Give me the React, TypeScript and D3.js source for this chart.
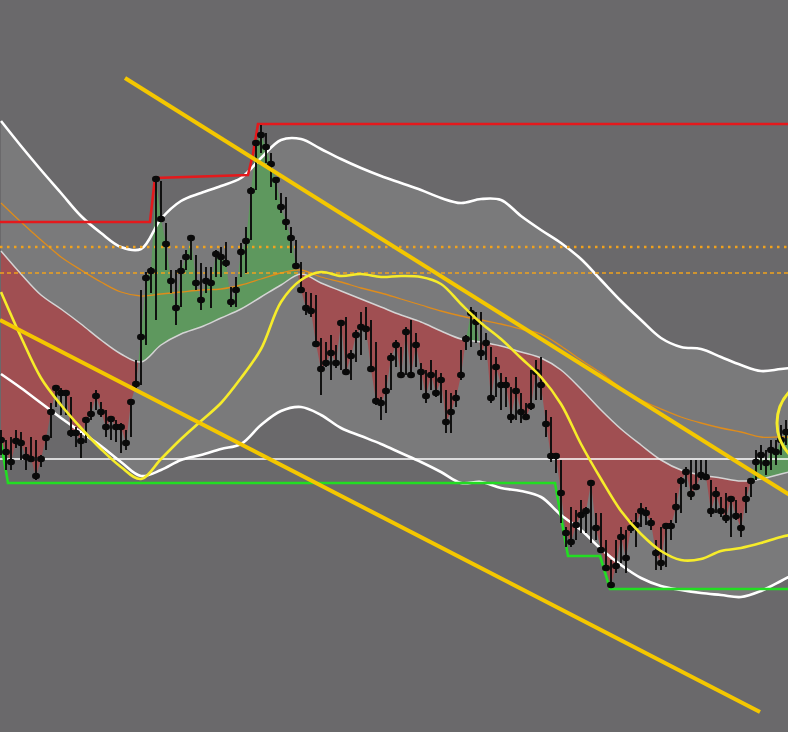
import React from 'react';
import * as d3 from 'd3';

const W = 788;
const H = 732;

// candle data (price units)
const closes = [56.0,54.8,53.8,55.9,55.7,54.3,54.1,52.4,54.1,56.2,
58.8,61.2,60.7,60.7,56.7,56.7,55.9,58.0,58.6,60.4,
58.8,57.3,58.1,57.3,57.3,55.7,59.8,61.6,66.3,72.2,
72.9,82.1,78.1,75.6,71.9,69.2,72.9,74.3,76.2,71.7,
70.0,71.9,71.7,74.6,74.3,73.7,69.8,71.0,74.8,75.9,
80.9,85.7,86.5,85.3,83.6,82.0,79.3,77.8,76.2,73.4,
71.0,69.2,68.9,65.6,63.1,63.7,64.7,63.7,67.7,62.8,
64.4,66.5,67.3,67.1,63.1,59.9,59.7,60.9,64.2,65.5,
62.5,66.8,62.5,65.5,62.8,60.4,62.5,60.7,62.0,57.8,
58.8,60.2,62.5,66.1,68.7,67.8,64.7,65.7,60.2,63.3,
61.5,61.5,58.3,60.9,58.8,58.3,59.4,62.8,61.5,57.6,
54.4,54.4,50.7,46.7,45.8,47.5,48.5,48.9,51.7,47.2,
45.0,43.2,41.5,43.4,46.3,44.2,47.2,47.5,48.9,48.7,
47.7,44.7,43.7,47.4,47.4,49.3,51.9,52.8,50.6,51.3,
52.5,52.3,48.9,50.6,48.9,48.2,50.1,48.4,47.2,50.1,
51.9,53.8,54.5,53.7,55.0,54.8,56.0,56.8];

const highs = [57.0,56.0,56.3,57.0,56.8,55.3,56.3,56.0,54.5,56.5,
59.7,61.5,61.2,61.0,60.3,57.3,56.7,58.3,59.8,61.0,
59.8,59.0,58.3,58.0,57.7,57.0,60.0,64.0,71.0,72.8,
73.3,82.3,81.9,77.7,73.0,73.0,74.0,75.0,76.5,74.5,
73.7,73.3,73.3,75.0,75.3,75.8,71.3,72.3,75.7,77.3,
81.3,86.0,87.5,86.7,84.7,82.3,80.7,80.3,77.3,76.0,
73.8,70.8,70.7,70.5,66.2,65.8,66.5,65.5,68.0,68.3,
65.0,67.0,68.8,69.3,68.0,65.8,60.3,62.5,64.7,66.0,
65.3,67.3,68.0,66.7,63.7,63.0,64.0,63.0,62.7,61.0,
60.7,61.0,65.0,66.5,69.3,68.8,68.8,66.7,65.3,64.3,
62.7,62.3,61.3,62.3,60.7,59.7,63.0,64.0,64.3,59.0,
58.3,54.7,54.0,47.3,49.3,49.0,50.0,49.3,52.0,48.7,
48.7,46.0,44.0,46.0,47.3,47.0,48.0,48.7,49.7,49.3,
48.2,46.0,47.3,47.7,48.0,50.7,52.3,53.3,54.0,54.0,
54.0,54.0,52.0,51.3,50.3,50.7,50.3,50.0,48.7,51.3,
52.2,55.0,55.5,55.0,56.0,56.0,57.5,58.0];

const lows = [54.5,53.0,53.0,55.2,54.0,53.0,53.8,52.0,53.3,55.0,
56.2,59.3,58.5,58.5,56.3,55.3,54.2,55.7,58.0,59.0,
58.3,56.3,56.0,55.8,54.7,55.0,56.3,61.2,61.5,65.5,
70.7,68.0,77.8,73.0,70.7,67.5,69.3,73.0,74.0,71.0,
69.0,70.7,69.2,72.3,72.3,73.3,69.3,69.3,72.3,72.7,
76.0,81.0,84.7,83.7,81.3,80.0,78.7,77.0,74.7,73.3,
70.7,68.5,68.3,65.3,60.5,63.3,62.0,63.2,63.0,62.7,
62.0,63.8,64.5,66.0,63.0,59.5,58.0,58.7,61.0,63.3,
62.3,62.5,62.3,63.3,61.0,59.7,61.0,60.3,59.7,56.7,
56.7,59.3,62.0,65.0,65.3,65.7,64.0,64.0,59.7,60.3,
59.0,59.3,57.7,58.0,57.7,58.0,59.0,60.0,60.0,56.3,
53.8,52.7,47.7,45.3,45.3,46.0,46.7,46.7,45.7,46.0,
44.7,43.0,41.3,42.7,43.7,42.7,46.7,45.3,47.3,47.5,
47.0,43.0,43.0,43.3,46.0,47.7,48.7,51.3,50.0,51.0,
52.0,52.0,48.3,48.7,48.3,47.7,46.3,48.0,46.3,48.7,
50.3,52.0,53.0,52.5,53.0,53.5,54.5,55.5];

// indicator lines sampled at these candle indices
const lineIdx = [0,4,8,12,16,20,24,28,32,36,40,44,48,52,56,60,64,68,72,76,80,84,88,92,96,100,104,108,112,116,120,124,128,132,136,140,144,148,152,156,160];

const upperBand = [87.9,85.4,83.0,80.7,78.4,76.7,75.3,75.1,78.1,79.9,80.7,81.4,82.2,84.2,86.0,86.1,85.1,84.1,83.2,82.4,81.7,81.0,80.2,79.7,80.1,80.0,78.4,77.0,75.7,74.1,72.0,69.9,68.0,66.2,65.3,65.1,64.3,63.5,62.9,63.1,63.3];
const lowerBand = [62.6,61.2,59.7,58.2,56.8,55.4,53.8,52.4,53.0,54.0,54.5,55.1,55.6,57.5,58.9,59.3,58.5,57.2,56.4,55.6,54.7,53.8,52.8,51.7,51.8,51.2,50.9,50.3,48.5,47.0,45.1,43.5,42.2,41.4,41.0,40.7,40.5,40.3,40.9,41.9,43.0];
const midLine = [74.9,72.6,70.5,69.1,67.6,66.0,64.6,63.8,65.5,66.6,67.3,68.2,69.1,70.3,71.5,72.6,71.7,70.9,70.1,69.3,68.5,67.8,66.9,66.1,65.8,65.4,64.8,64.2,63.0,61.1,59.0,57.1,55.5,54.0,53.0,52.5,52.2,51.9,52.1,52.6,53.1];
const yellowLine = [70.8,66.3,62.2,59.5,57.2,55.1,53.3,52.1,54.1,56.1,57.9,59.7,62.2,65.1,69.8,72.0,72.8,72.4,72.6,72.3,72.4,72.3,71.6,69.6,67.7,66.1,64.2,62.3,59.6,55.6,52.1,48.9,46.6,44.9,44.0,44.1,44.9,45.2,45.7,46.3,46.7];
const orangeLine = [79.7,77.8,76.0,74.3,73.0,71.8,70.8,70.4,70.6,70.8,71.0,71.1,71.5,72.1,72.7,73.0,72.3,71.8,71.2,70.7,70.1,69.5,68.9,68.4,68.0,67.6,67.1,66.6,65.4,64.0,62.7,61.2,60.0,59.1,58.3,57.7,57.2,56.8,56.3,56.3,56.3];

// step lines (highest high / lowest low)
const redStepIdx = [-1, 29.8, 30.8, 49.4, 50.4, 51.4, 160];
const redStep = [77.8, 77.8, 82.2, 82.5, 84.6, 87.6, 87.6];
const greenStepIdx = [-0.2, 1.4, 110.8, 113.4, 119.8, 121.8, 160];
const greenStep = [56.3, 51.7, 51.7, 44.4, 44.4, 41.1, 41.1];

// trend lines
const trendUpperIdx = [24.8, 160];
const trendUpper = [92.2, 49.8];
const trendLowerIdx = [-0.2, 151.8];
const trendLower = [68.0, 28.8];

// horizontal levels
const levelDotted = 75.3;
const levelDashed = 72.7;
const levelWhite = 54.1;

// circle marker
const circleIdx = 164.4;
const circlePrice = 57.7;
const circleRadius = 4.6;

export default function App() {
  const x = d3.scaleLinear().domain([0, 157]).range([1, 786]);
  const y = d3.scaleLinear().domain([26.8, 100]).range([H, 0]);
  const smooth = d3.curveCatmullRom.alpha(0.5);
  const pts = (vals: number[]) => vals.map((v, i) => [x(lineIdx[i]), y(v)] as [number, number]);
  const smoothLine = d3.line<[number, number]>().curve(smooth);
  const straight = d3.line<[number, number]>();

  const band = d3
    .area<number>()
    .x((_, i) => x(lineIdx[i]))
    .y0((_, i) => y(lowerBand[i]))
    .y1((v) => y(v))
    .curve(smooth)(upperBand) as string;

  const closePath = straight(closes.map((c, i) => [x(i), y(c)] as [number, number])) as string;
  const maRev = smoothLine(pts(midLine).reverse()) as string;
  const fillD = closePath + 'L' + maRev.slice(1) + 'Z';
  const x0 = x(lineIdx[0]);
  const x1 = x(lineIdx[lineIdx.length - 1]);
  const clipAbove = maRev + `L${x0},-50L${x1},-50Z`;
  const clipBelow = maRev + `L${x0},${H + 50}L${x1},${H + 50}Z`;

  const stepPts = (idx: number[], vals: number[]) => idx.map((d, i) => [x(d), y(vals[i])] as [number, number]);

  const cr = y(circlePrice - circleRadius) - y(circlePrice);

  return (
    <>
      <style>{`body{margin:0;background:#6a696b;} svg{display:block;}`}</style>
      <svg width={W} height={H} viewBox={`0 0 ${W} ${H}`}>
        <defs>
          <clipPath id="above"><path d={clipAbove} /></clipPath>
          <clipPath id="below"><path d={clipBelow} /></clipPath>
        </defs>
        <rect x={0} y={0} width={W} height={H} fill="#6a696b" />
        <path d={band} fill="#7a7a7b" />
        <path d={fillD} fill="#5e985e" clipPath="url(#above)" />
        <path d={fillD} fill="#a04f52" clipPath="url(#below)" />
        <path d={smoothLine(pts(midLine)) as string} fill="none" stroke="#d4d4d4" strokeWidth={1.5} />
        <path d={smoothLine(pts(upperBand)) as string} fill="none" stroke="#ffffff" strokeWidth={2.6} />
        <path d={smoothLine(pts(lowerBand)) as string} fill="none" stroke="#ffffff" strokeWidth={2.6} />
        <path d={smoothLine(pts(orangeLine)) as string} fill="none" stroke="#de8c1c" strokeWidth={1.3} />
        <line x1={0} x2={W} y1={y(levelDotted)} y2={y(levelDotted)} stroke="#f0a21e" strokeWidth={2.6} strokeDasharray="2.5,4.5" />
        <line x1={0} x2={W} y1={y(levelDashed)} y2={y(levelDashed)} stroke="#f0a21e" strokeWidth={1.3} strokeDasharray="4,3" />
        <line x1={0} x2={W} y1={y(levelWhite)} y2={y(levelWhite)} stroke="#ffffff" strokeWidth={1.5} />
        <path d={straight(stepPts(redStepIdx, redStep)) as string} fill="none" stroke="#e4191c" strokeWidth={2.6} />
        <path d={straight(stepPts(greenStepIdx, greenStep)) as string} fill="none" stroke="#22dd22" strokeWidth={2.6} />
        <g>
          {closes.map((c, i) => (
            <g key={i}>
              <line x1={x(i)} x2={x(i)} y1={y(highs[i])} y2={y(lows[i])} stroke="#0c0c0c" strokeWidth={1.9} />
              <ellipse cx={x(i)} cy={y(c)} rx={4} ry={3.3} fill="#0a0a0a" />
            </g>
          ))}
        </g>
        <path d={smoothLine(pts(yellowLine)) as string} fill="none" stroke="#f6ec2a" strokeWidth={2.6} />
        <path d={straight(stepPts(trendUpperIdx, trendUpper)) as string} fill="none" stroke="#f4c700" strokeWidth={4} />
        <path d={straight(stepPts(trendLowerIdx, trendLower)) as string} fill="none" stroke="#f4c700" strokeWidth={4} />
        <circle cx={x(circleIdx)} cy={y(circlePrice)} r={cr} fill="none" stroke="#f6ec2a" strokeWidth={3} />
      </svg>
    </>
  );
}
